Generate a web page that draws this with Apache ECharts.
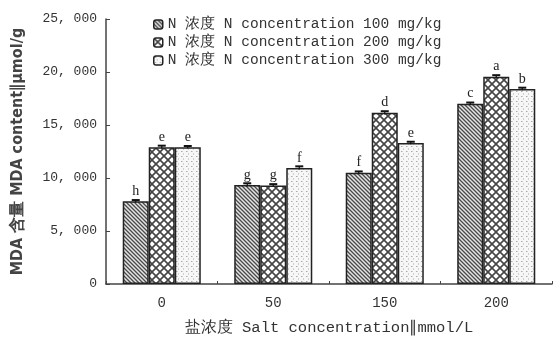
<!DOCTYPE html>
<html><head><meta charset="utf-8">
<script src="https://cdn.jsdelivr.net/npm/echarts@6/dist/echarts.min.js"></script>
<style>html,body{margin:0;padding:0;background:#fff}#c{width:555px;height:352px}</style>
</head><body><div id="c"></div>
<script>
var categories = ['0', '50', '150', '200'];
var seriesNames = ['N 浓度 N concentration 100 mg/kg', 'N 浓度 N concentration 200 mg/kg', 'N 浓度 N concentration 300 mg/kg'];
var n100 = [7800, 9350, 10500, 17000];
var n200 = [12900, 9300, 16150, 19550];
var n300 = [12900, 10950, 13300, 18400];
var err100 = [120, 150, 120, 120];
var err200 = [150, 120, 150, 150];
var err300 = [120, 150, 120, 120];
var letters100 = ['h', 'g', 'f', 'c'];
var letters200 = ['e', 'g', 'd', 'a'];
var letters300 = ['e', 'f', 'e', 'b'];
var yTicks = [0, 5000, 10000, 15000, 20000, 25000];

function pat(kind) {
  var c = document.createElement('canvas');
  var s = kind === 2 ? 8 : (kind === 1 ? 4 : 5);
  c.width = s; c.height = s;
  var g = c.getContext('2d');
  g.fillStyle = '#fff'; g.fillRect(0, 0, s, s);
  if (kind === 1) {
    g.fillStyle = '#e6e6e6'; g.fillRect(0, 0, s, s);
    g.strokeStyle = '#4a4a4a'; g.lineWidth = 1.3;
    g.beginPath(); g.moveTo(0, 0); g.lineTo(s, s); g.moveTo(-s, 0); g.lineTo(s, 2 * s); g.moveTo(0, -s); g.lineTo(2 * s, s); g.stroke();
    g.strokeStyle = '#999'; g.lineWidth = 0.6;
    g.beginPath(); g.moveTo(s, 0); g.lineTo(0, s); g.stroke();
  } else if (kind === 2) {
    g.strokeStyle = '#444'; g.lineWidth = 1.6;
    g.beginPath(); g.moveTo(0, 0); g.lineTo(s, s); g.moveTo(s, 0); g.lineTo(0, s); g.stroke();
  } else {
    g.fillStyle = '#f7f7f7'; g.fillRect(0, 0, s, s);
    g.fillStyle = '#aaa'; g.fillRect(1, 1, 1.5, 1); g.fillRect(3, 3.5, 1, 1);
  }
  return { image: c, repeat: 'repeat' };
}

var vals = [n100, n200, n300];
var errs = [err100, err200, err300];
var lets = [letters100, letters200, letters300];
var mono = 'Liberation Mono';

var series = vals.map(function (v, s) {
  return {
    name: seriesNames[s], type: 'bar', data: v, barGap: '0%', barCategoryGap: '30%',
    itemStyle: { color: pat(s + 1), borderColor: '#222', borderWidth: 1.5 },
    label: { show: true, position: 'top', distance: 3, color: '#222', fontFamily: 'Liberation Serif', fontSize: 14,
      formatter: function (p) { return lets[s][p.dataIndex]; } },
    z: 2
  };
});

series.push({
  type: 'custom', name: 'err', silent: true, z: 5,
  data: categories.map(function (c, i) { return [i]; }),
  renderItem: function (params, api) {
    var i = api.value(0);
    var bw = api.size([1, 0])[0] * 0.7 / 3;
    var children = [];
    for (var s = 0; s < 3; s++) {
      var hi = api.coord([i, vals[s][i] + errs[s][i]]);
      var lo = api.coord([i, vals[s][i] - errs[s][i]]);
      var x = hi[0] + (s - 1) * bw;
      children.push({ type: 'line', shape: { x1: x, y1: hi[1], x2: x, y2: lo[1] }, style: { stroke: '#111', lineWidth: 1.2 } });
      children.push({ type: 'line', shape: { x1: x - 4, y1: hi[1], x2: x + 4, y2: hi[1] }, style: { stroke: '#111', lineWidth: 2 } });
    }
    return { type: 'group', children: children };
  }
});

var chart = echarts.init(document.getElementById('c'), null, { renderer: 'canvas' });
chart.setOption({
  animation: false,
  backgroundColor: '#fff',
  grid: { left: 106, right: 3, top: 19, bottom: 68 },
  legend: {
    data: seriesNames, orient: 'vertical', left: 148, top: 12, itemWidth: 9, itemHeight: 9, itemGap: 3,
    textStyle: { fontFamily: mono, fontSize: 14.5, color: '#333' },
    itemStyle: { borderColor: '#222', borderWidth: 1.5 }
  },
  xAxis: {
    type: 'category', data: categories,
    name: '盐浓度 Salt concentration∥mmol/L', nameLocation: 'middle', nameGap: 36,
    nameTextStyle: { fontFamily: mono, fontSize: 15.5, color: '#333' },
    axisLine: { lineStyle: { color: '#444', width: 1.5 } },
    axisTick: { show: true, inside: true, length: 3, lineStyle: { color: '#444' } },
    axisLabel: { fontFamily: mono, fontSize: 14, color: '#333', margin: 12 }
  },
  yAxis: {
    type: 'value', min: 0, max: 25000, interval: 5000,
    name: 'MDA 含量 MDA content∥μmol/g', nameLocation: 'middle', nameGap: 80, nameRotate: 90,
    nameTextStyle: { fontFamily: 'DejaVu Sans Condensed', fontWeight: 'bold', fontSize: 16, color: '#444' },
    axisLine: { show: true, lineStyle: { color: '#444', width: 1.5 } },
    axisTick: { show: true, inside: true, length: 4, lineStyle: { color: '#444' } },
    splitLine: { show: false },
    axisLabel: { fontFamily: mono, fontSize: 13, color: '#333', margin: 9,
      formatter: function (v) { return v === 0 ? '0' : (v / 1000) + ', 000'; } }
  },
  series: series
});
</script></body></html>
